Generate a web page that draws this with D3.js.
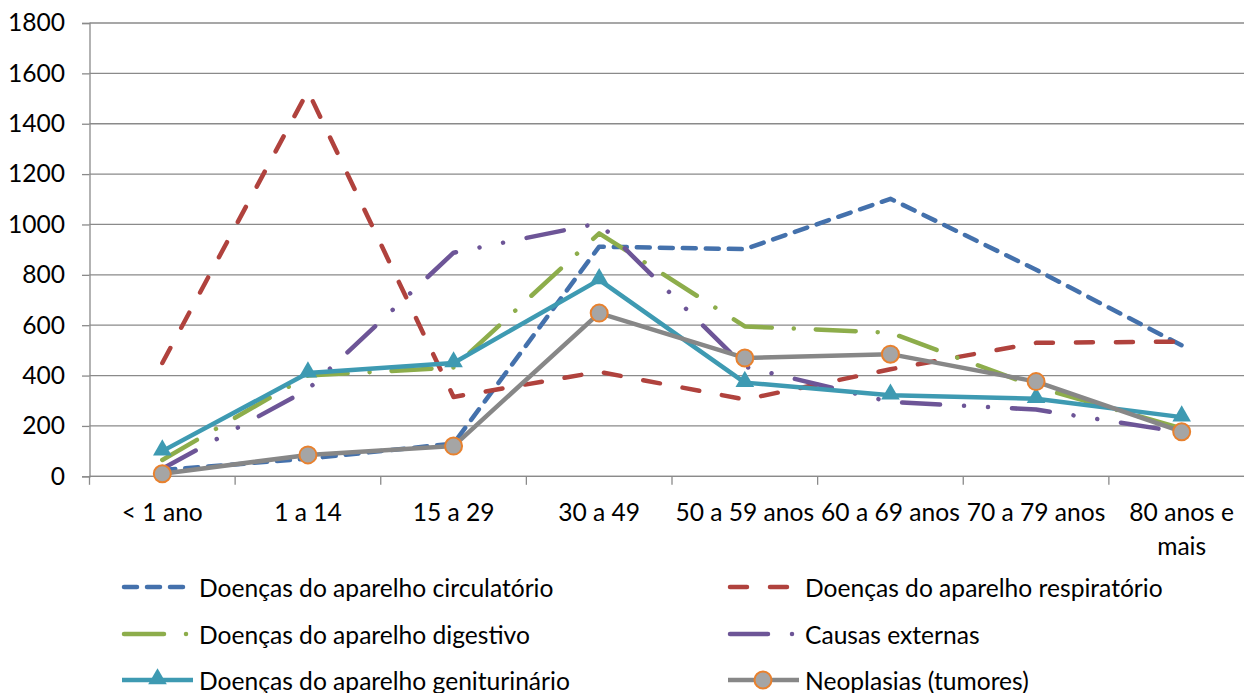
<!DOCTYPE html>
<html>
<head>
<meta charset="utf-8">
<script src="https://cdn.jsdelivr.net/npm/d3@7"></script>
<style>
  html, body { margin: 0; padding: 0; background: #fff; }
  svg { display: block; }
  text { font-family: Lato, "Liberation Sans", sans-serif; font-size: 24.6px; fill: #000; }
</style>
</head>
<body>
<svg id="chart" width="1244" height="693"></svg>
<script>
// Age groups (x axis)
const categories = ["< 1 ano", "1 a 14", "15 a 29", "30 a 49", "50 a 59 anos", "60 a 69 anos", "70 a 79 anos", "80 anos e mais"];
const yTicks = [0, 200, 400, 600, 800, 1000, 1200, 1400, 1600, 1800];

// Counts per cause of death
const circulatorio  = [25, 70, 130, 912, 902, 1102, 820, 520];
const respiratorio  = [450, 1530, 315, 415, 305, 425, 530, 535];
const digestivo     = [65, 400, 432, 965, 595, 570, 355, 190];
const externas      = [30, 345, 888, 1005, 435, 295, 265, 175];
const geniturinario = [100, 410, 450, 780, 372, 322, 308, 235];
const neoplasias    = [10, 85, 120, 648, 470, 485, 376, 177];

const seriesNames = [
  "Doenças do aparelho circulatório",
  "Doenças do aparelho respiratório",
  "Doenças do aparelho digestivo",
  "Causas externas",
  "Doenças do aparelho geniturinário",
  "Neoplasias (tumores)"
];

const series = [
  { name: seriesNames[0], values: circulatorio,  color: "#4471AC", dash: "13,10", legendLen: 61, marker: null },
  { name: seriesNames[1], values: respiratorio,  color: "#B0423D", dash: "17,23", legendLen: 57, marker: null },
  { name: seriesNames[2], values: digestivo,     color: "#8DAD4B", dash: "40,22,0.01,22", legendLen: 62.1, marker: null },
  { name: seriesNames[3], values: externas,      color: "#6D5597", dash: "38,24,0.01,24,0.01,24", legendLen: 62.1, marker: null },
  { name: seriesNames[4], values: geniturinario, color: "#3E9AB2", dash: null, legendLen: 71, marker: "triangle" },
  { name: seriesNames[5], values: neoplasias,    color: "#878787", dash: null, legendLen: 71, marker: "circle" }
];
const lineWidth = 4.5;

const svg = d3.select("#chart");
const plot = { left: 89.5, right: 1254.5, top: 23, bottom: 476.3 };

const x = d3.scaleBand().domain(categories).range([plot.left, plot.right]).paddingInner(0).paddingOuter(0);
const xc = c => x(c) + x.bandwidth() / 2;
const y = d3.scaleLinear().domain([0, 1800]).range([plot.bottom, plot.top]);

// Horizontal gridlines
svg.append("g").selectAll("line").data(yTicks).join("line")
  .attr("x1", plot.left).attr("x2", plot.right)
  .attr("y1", d => y(d)).attr("y2", d => y(d))
  .attr("stroke", "#8a8a8a").attr("stroke-width", 1.3);

// Y axis
const yAxis = svg.append("g").attr("transform", `translate(${plot.left},0)`)
  .call(d3.axisLeft(y).tickValues(yTicks).tickSize(7.5).tickPadding(17).tickFormat(d3.format("d")));
yAxis.select(".domain").attr("stroke", "#8a8a8a").attr("stroke-width", 1.3);
yAxis.selectAll(".tick line").attr("stroke", "#8a8a8a").attr("stroke-width", 1.3);
yAxis.selectAll(".tick text").attr("font-size", 24.6).attr("font-family", "Lato, sans-serif").attr("fill", "#000");

// X axis: boundary ticks between categories
const xAxisG = svg.append("g");
xAxisG.append("line").attr("x1", plot.left).attr("x2", plot.right)
  .attr("y1", plot.bottom).attr("y2", plot.bottom)
  .attr("stroke", "#8a8a8a").attr("stroke-width", 1.3);
const boundaries = categories.map(c => x(c)).concat([x(categories[categories.length - 1]) + x.bandwidth()]);
xAxisG.selectAll("line.tick").data(boundaries).join("line").attr("class", "tick")
  .attr("x1", d => d).attr("x2", d => d)
  .attr("y1", plot.bottom).attr("y2", plot.bottom + 8.5)
  .attr("stroke", "#8a8a8a").attr("stroke-width", 1.3);

// Category labels, wrapped where the label is too long for its band
const wrapLines = c => c === "80 anos e mais" ? ["80 anos e", "mais"] : [c];
xAxisG.selectAll("text.cat").data(categories).join("text").attr("class", "cat")
  .attr("text-anchor", "middle")
  .each(function(c) {
    const t = d3.select(this);
    wrapLines(c).forEach((ln, i) => {
      t.append("tspan").attr("x", xc(c)).attr("y", 511 + i * 34).attr("dominant-baseline", "central").text(ln);
    });
  });

// Series lines
const line = d3.line().x((d, i) => xc(categories[i])).y(d => y(d));
const trianglePath = d3.symbol().type(d3.symbolTriangle).size(150);

series.forEach(s => {
  const g = svg.append("g");
  g.append("path").datum(s.values)
    .attr("d", line)
    .attr("fill", "none")
    .attr("stroke", s.color)
    .attr("stroke-width", lineWidth)
    .attr("stroke-linecap", s.dash ? "round" : "butt")
    .attr("stroke-linejoin", "round")
    .attr("stroke-dasharray", s.dash);
  if (s.marker === "triangle") {
    g.selectAll("path.m").data(s.values).join("path").attr("class", "m")
      .attr("d", trianglePath)
      .attr("transform", (d, i) => `translate(${xc(categories[i])},${y(d) - 1})`)
      .attr("fill", s.color);
  } else if (s.marker === "circle") {
    g.selectAll("circle").data(s.values).join("circle")
      .attr("cx", (d, i) => xc(categories[i])).attr("cy", d => y(d))
      .attr("r", 8.5)
      .attr("fill", "#A5A5A5").attr("stroke", "#E8812E").attr("stroke-width", 2);
  }
});

// Legend: two columns, three rows
const legendCols = [122, 728];
const legendRows = [587, 634, 680];
const legend = svg.append("g");
series.forEach((s, i) => {
  const lx = legendCols[i % 2];
  const ly = legendRows[Math.floor(i / 2)];
  const g = legend.append("g");
  if (s.dash) {
    g.append("line")
      .attr("x1", lx + 2).attr("x2", lx + 2 + s.legendLen).attr("y1", ly).attr("y2", ly)
      .attr("stroke", s.color).attr("stroke-width", lineWidth)
      .attr("stroke-linecap", "round").attr("stroke-dasharray", s.dash);
  } else {
    g.append("line")
      .attr("x1", lx).attr("x2", lx + s.legendLen).attr("y1", ly).attr("y2", ly)
      .attr("stroke", s.color).attr("stroke-width", lineWidth);
    if (s.marker === "triangle") {
      g.append("path").attr("d", trianglePath)
        .attr("transform", `translate(${lx + 35.5},${ly - 1})`).attr("fill", s.color);
    } else {
      g.append("circle").attr("cx", lx + 35).attr("cy", ly).attr("r", 8.5)
        .attr("fill", "#A5A5A5").attr("stroke", "#E8812E").attr("stroke-width", 2);
    }
  }
  g.append("text").attr("x", lx + 77).attr("y", ly).attr("dominant-baseline", "central").text(s.name);
});
</script>
</body>
</html>
